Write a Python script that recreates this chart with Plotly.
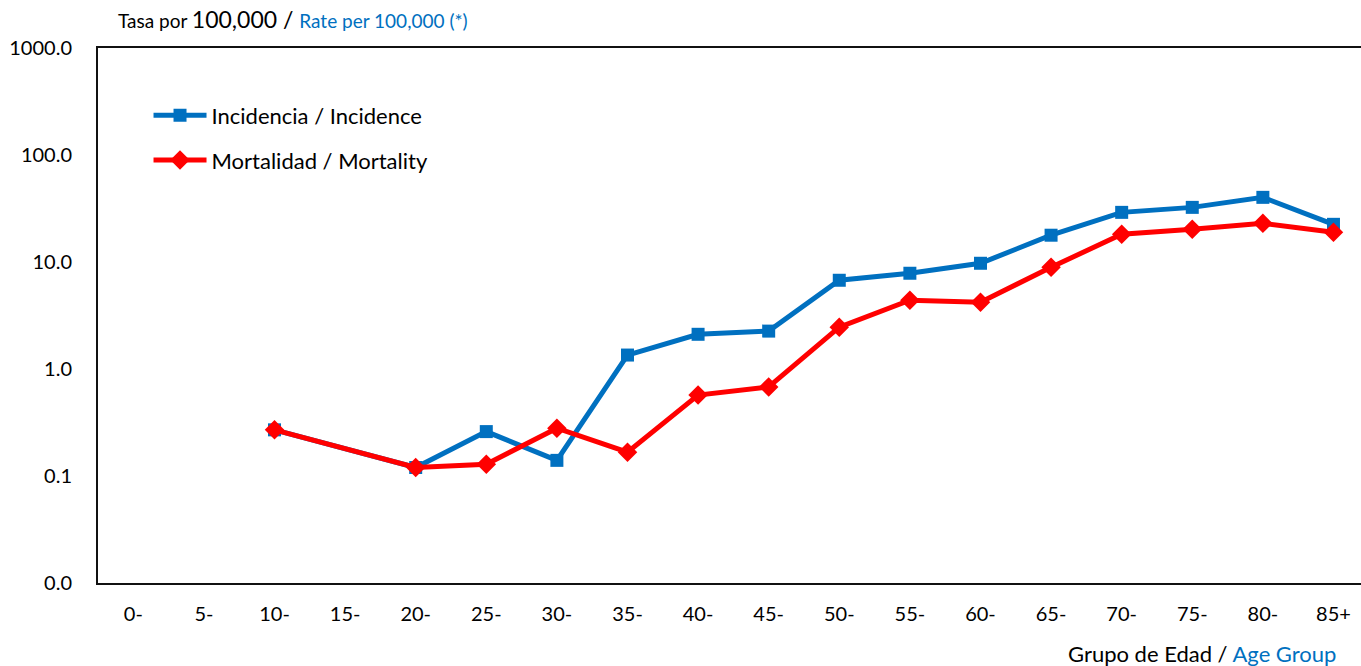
import plotly.graph_objects as go

age_groups = ["0-", "5-", "10-", "15-", "20-", "25-", "30-", "35-", "40-", "45-",
              "50-", "55-", "60-", "65-", "70-", "75-", "80-", "85+"]
incidence = [None, None, 0.27, None, 0.12, 0.26, 0.14, 1.35, 2.11, 2.26,
             6.75, 7.85, 9.73, 17.8, 29.1, 32.4, 40.2, 22.5]
mortality = [None, None, 0.27, None, 0.12, 0.129, 0.28, 0.167, 0.57, 0.68,
             2.46, 4.39, 4.21, 8.92, 18.2, 20.2, 23.0, 19.0]
y_tickvals = [0.01, 0.1, 1, 10, 100, 1000]
y_ticktext = ["0.0", "0.1", "1.0", "10.0", "100.0", "1000.0"]

FONT = "Lato, 'Open Sans', sans-serif"
BLUE = "#0070C0"
RED = "#FF0000"

x_idx = list(range(len(age_groups)))

fig = go.Figure()
fig.add_trace(go.Scatter(
    x=x_idx, y=incidence, mode="lines+markers", name="Incidencia / Incidence",
    line=dict(color=BLUE, width=5), connectgaps=True,
    marker=dict(symbol="square", size=13, color=BLUE),
    legendgroup="a"))
fig.add_trace(go.Scatter(
    x=x_idx, y=mortality, mode="lines+markers", name="Mortalidad / Mortality",
    line=dict(color=RED, width=5), connectgaps=True,
    marker=dict(symbol="diamond", size=15, color=RED),
    legendgroup="b"))

fig.update_layout(
    width=1361, height=666,
    margin=dict(l=98, r=0, t=48, b=83),
    plot_bgcolor="white", paper_bgcolor="white",
    font=dict(family=FONT, size=20, color="#000"),
    showlegend=True,
    legend=dict(x=0.04, y=0.913, xanchor="left", yanchor="top",
                font=dict(family=FONT, size=22, color="#000"),
                bgcolor="rgba(0,0,0,0)", tracegroupgap=13,
                traceorder="grouped", itemwidth=53),
    xaxis=dict(
        tickmode="array", tickvals=x_idx, ticktext=age_groups,
        range=[-0.5, 17.39], showgrid=False, zeroline=False,
        showline=True, linecolor="#111", linewidth=2, mirror=True,
        ticks="", ticklabelstandoff=12,
        tickfont=dict(family=FONT, size=20, color="#000"),
    ),
    yaxis=dict(
        type="log", range=[-2, 3], tickmode="array",
        tickvals=y_tickvals, ticktext=y_ticktext,
        showgrid=False, zeroline=False, showline=True,
        linecolor="#111", linewidth=2, mirror=False, ticks="",
        ticklabelstandoff=20,
        tickfont=dict(family=FONT, size=20, color="#000"),
    ),
    annotations=[
        dict(xref="paper", yref="paper", x=(116 - 98) / 1263, y=1.0,
             yshift=29, xanchor="left", yanchor="middle", showarrow=False,
             text="<span style='font-size:19px'>Tasa por </span>"
                  "<span style='font-size:23px'>100,000 / </span>"
                  "<span style='font-size:19px;color:#0070C0'>Rate per 100,000 (*)</span>",
             font=dict(family=FONT, color="#000")),
        dict(xref="paper", yref="paper", x=(1338 - 98) / 1263, y=0,
             yshift=-70, xanchor="right", yanchor="middle", showarrow=False,
             text="Grupo de Edad / <span style='color:#0070C0'>Age Group</span>",
             font=dict(family=FONT, size=22, color="#000")),
    ],
)

fig.write_html("out.html", config={"displayModeBar": False},
               post_script="document.body.style.margin='0';")
